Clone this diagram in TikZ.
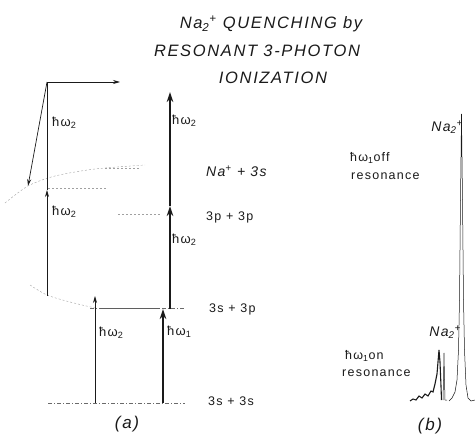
\documentclass[tikz,border=0pt]{standalone}
\usepackage{fontspec}
\setmainfont{Liberation Sans}
\newfontfamily\letterfont[LetterSpace=10]{Liberation Sans}
\usepackage{tikz}
\usetikzlibrary{arrows.meta}
\definecolor{Ink}{HTML}{1A1A1A}
\definecolor{Faint}{HTML}{A0A0A0}
\tikzset{
  level/.style={draw=Ink!65,line width=0.5pt,dash pattern=on 4pt off 2pt on 1pt off 2pt},
  guide/.style={draw=Faint,line width=0.4pt,dash pattern=on 2pt off 2pt},
  photon/.style={draw=Ink,line width=0.7pt,-{Stealth[length=7pt,width=4pt]}},
  bigphoton/.style={draw=Ink,line width=2.4pt,-{Stealth[length=10pt,width=6.5pt]}},
  title/.style={font=\letterfont\itshape\fontsize{16.5}{18}\selectfont,text=Ink,inner sep=0pt},
  lbl/.style={font=\letterfont\fontsize{13}{15}\selectfont,text=Ink,anchor=west,inner sep=0pt},
  statelbl/.style={font=\letterfont\fontsize{12.5}{14}\selectfont,text=Ink,anchor=west,inner sep=0pt},
  panel/.style={font=\letterfont\itshape\fontsize{17}{19}\selectfont,text=Ink,inner sep=0pt},
  spec/.style={draw=Ink,line width=0.5pt}
}

\begin{document}
\begin{tikzpicture}[x=1pt,y=-1pt]
  \useasboundingbox (0,0) rectangle (475,439);
  % title
  \node[title] (t1) at (271,24) {Na\textsubscript{2}\textsuperscript{+} QUENCHING by};
  \node[title] (t2) at (257,51) {RESONANT 3-PHOTON};
  \node[title] (t3) at (273,78) {IONIZATION};

  % (a) energy levels
  \draw[level] (48,403) -- (185,403);
  \draw[level] (90,308) -- (185,308);
  \draw[Ink!70,line width=0.5pt] (100,308) -- (160,308);
  \draw[guide] (118,214) -- (160,214);
  \draw[guide] (105,168) -- (140,168);
  \draw[guide] (48,188) -- (107,188);
  \draw[guide] plot[smooth] coordinates {(5,203) (28,186) (55,176) (95,169) (145,165)};
  \draw[guide] plot[smooth] coordinates {(30,285) (47,295) (70,302) (95,308)};

  \coordinate (gnd1) at (163,403);
  \coordinate (res1) at (163,309);
  \coordinate (res2) at (170,309);
  \coordinate (pp) at (170,206);
  \coordinate (ion) at (170,92);
  \coordinate (gnd2) at (95,403);
  \coordinate (vir) at (95,296);
  \coordinate (lres) at (47,296);
  \coordinate (lpp) at (47,190);
  \coordinate (lion) at (47,82);
  \coordinate (elec) at (120,82);
  \coordinate (lna) at (28,186);

  \draw[bigphoton] (gnd1) -- (res1);
  \draw[bigphoton] (res2) -- (pp);
  \draw[bigphoton] (pp) -- (ion);
  \draw[photon] (gnd2) -- (vir);
  \draw[photon] (lres) -- (lpp);
  \draw[photon,-] (lpp) -- (lion);
  \draw[photon] (lion) -- (elec);
  \draw[photon] (lion) -- (lna);

  \node[lbl] (w1) at (167,332) {ħω\textsubscript{1}};
  \node[lbl] (w2a) at (99,333) {ħω\textsubscript{2}};
  \node[lbl] (w2b) at (172,240) {ħω\textsubscript{2}};
  \node[lbl] (w2c) at (172,121) {ħω\textsubscript{2}};
  \node[lbl] (w2d) at (52,212) {ħω\textsubscript{2}};
  \node[lbl] (w2e) at (52,123) {ħω\textsubscript{2}};

  \node[statelbl,font=\letterfont\itshape\fontsize{14}{16}\selectfont] (s4) at (206,171) {Na\textsuperscript{+} + 3s};
  \node[statelbl] (s3) at (206,217) {3p + 3p};
  \node[statelbl] (s2) at (209,309) {3s + 3p};
  \node[statelbl] (s1) at (208,401) {3s + 3s};
  \node[panel] (pa) at (127,424) {(a)};

  % (b) ion spectrum
  \draw[spec] plot coordinates {(449,401) (452,398) (455,392) (457,380) (458.5,350) (459.5,300) (460.5,200) (461.5,114) (462.5,200) (463.5,300) (464.5,350) (466,385) (468,398) (471,401) (475,400)};
  \draw[spec,line width=1.1pt] plot coordinates {(410,401) (413,399) (416,400) (419,396) (422,398) (425,394) (428,396) (431,391) (433,392) (435,384) (437,374) (438,362) (439,350) (440,362) (441,386) (441.5,400)};
  \draw[spec] plot coordinates {(443,400) (443.5,380) (444,353) (444.5,380) (445,400) (447,400)};

  \node[statelbl,font=\letterfont\itshape\fontsize{14}{16}\selectfont,anchor=east] (n2top) at (463,127) {Na\textsubscript{2}\textsuperscript{+}};
  \node[statelbl] (off1) at (350,158) {ħω\textsubscript{1}off};
  \node[statelbl] (off2) at (351,176) {resonance};
  \node[statelbl,font=\letterfont\itshape\fontsize{14}{16}\selectfont,anchor=east] (n2bot) at (461,332) {Na\textsubscript{2}\textsuperscript{+}};
  \node[statelbl] (on1) at (345,356) {ħω\textsubscript{1}on};
  \node[statelbl] (on2) at (342,373) {resonance};
  \node[panel] (pb) at (430,426) {(b)};
\end{tikzpicture}
\end{document}
